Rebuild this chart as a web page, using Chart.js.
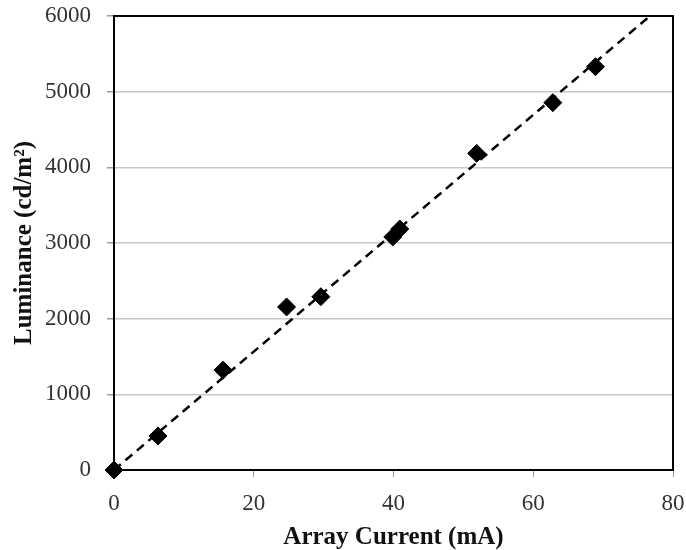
<!DOCTYPE html>
<html>
<head>
<meta charset="utf-8">
<script src="https://cdn.jsdelivr.net/npm/chart.js@4"></script>
<style>
  html, body { margin: 0; padding: 0; background: #fff; }
  #wrap { width: 686px; height: 550px; }
</style>
</head>
<body>
<div id="wrap"><canvas id="chart" width="686" height="550"></canvas></div>
<script>
'use strict';

// measured points
const currents = [0, 6.3, 15.6, 24.7, 29.6, 39.9, 40.9, 51.9, 62.8, 68.9];
const luminance = [0, 450, 1320, 2155, 2290, 3080, 3185, 4185, 4855, 5330];

// linear fit through origin
const fitX = [0, 76.7];
const fitY = [0, 6000];

const xTicks = [0, 20, 40, 60, 80];
const yTicks = [0, 1000, 2000, 3000, 4000, 5000, 6000];

const pts = (xs, ys) => xs.map((x, i) => ({ x: x, y: ys[i] }));

// box around the plot area
const frame = {
  id: 'frame',
  afterDraw(chart) {
    const { ctx, chartArea: a } = chart;
    ctx.save();
    ctx.strokeStyle = '#000';
    ctx.lineWidth = 2;
    ctx.strokeRect(a.left, a.top, a.right - a.left, a.bottom - a.top);
    ctx.restore();
  }
};

const serif = '"Liberation Serif", "Times New Roman", serif';

new Chart(document.getElementById('chart'), {
  type: 'scatter',
  data: {
    datasets: [
      {
        label: 'Fit',
        type: 'line',
        data: pts(fitX, fitY),
        borderColor: '#000',
        borderWidth: 2.5,
        borderDash: [9, 6],
        pointRadius: 0,
        fill: false,
        order: 2
      },
      {
        label: 'Luminance',
        data: pts(currents, luminance),
        pointStyle: 'rectRot',
        pointRadius: 9,
        pointBackgroundColor: '#000',
        pointBorderColor: '#000',
        pointBorderWidth: 1,
        clip: false,
        order: 1
      }
    ]
  },
  options: {
    responsive: false,
    animation: false,
    layout: { padding: { left: 10, right: 13, top: 16, bottom: 0 } },
    plugins: { legend: { display: false }, tooltip: { enabled: false } },
    scales: {
      x: {
        type: 'linear',
        min: 0,
        max: 80,
        afterBuildTicks: s => { s.ticks = xTicks.map(v => ({ value: v })); },
        afterFit: s => { s.height = 80; s.paddingLeft = 0; s.paddingRight = 0; },
        grid: { drawOnChartArea: false, tickLength: 7, tickColor: '#999' },
        border: { color: '#000', width: 2 },
        ticks: {
          color: '#333', padding: 13, font: { family: serif, size: 23 },
          callback: v => String(v)
        },
        title: {
          display: true,
          text: 'Array Current (mA)',
          color: '#111',
          padding: { top: 0, bottom: -3 },
          font: { family: serif, size: 25, weight: 'bold' }
        }
      },
      y: {
        min: 0,
        max: 6000,
        afterBuildTicks: s => { s.ticks = yTicks.map(v => ({ value: v })); },
        afterFit: s => { s.width = 104; s.paddingTop = 0; s.paddingBottom = 0; },
        grid: { color: '#c8c8c8', lineWidth: 1.5, tickLength: 7, tickColor: '#999' },
        border: { color: '#000', width: 2 },
        ticks: {
          color: '#333', padding: 16, font: { family: serif, size: 23 },
          callback: v => String(v)
        },
        title: {
          display: true,
          text: 'Luminance (cd/m²)',
          color: '#111',
          padding: { top: 0, bottom: 0 },
          font: { family: serif, size: 25, weight: 'bold' }
        }
      }
    }
  },
  plugins: [frame]
});
</script>
</body>
</html>
